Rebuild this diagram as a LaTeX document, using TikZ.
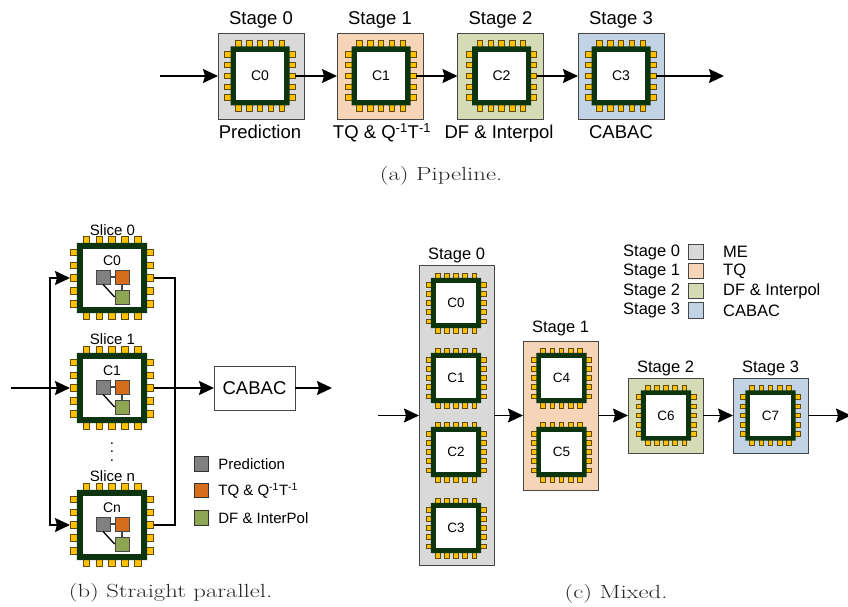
\documentclass[tikz,border=0pt]{standalone}
\usepackage{fontspec}
\usetikzlibrary{positioning, shapes.misc, arrows.meta}
\newfontfamily\arialfont{Liberation Sans}
\definecolor{chipgreen}{RGB}{12, 52, 14}
\definecolor{pingold}{RGB}{255, 192, 0}
\definecolor{pinedge}{RGB}{95, 75, 10}
\definecolor{stagegray}{RGB}{217, 217, 217}
\definecolor{stagepeach}{RGB}{246, 212, 184}
\definecolor{stagegreen}{RGB}{212, 219, 181}
\definecolor{stageblue}{RGB}{193, 211, 229}
\definecolor{blockgray}{RGB}{128, 128, 128}
\definecolor{blockorange}{RGB}{212, 110, 28}
\definecolor{blockgreen}{RGB}{142, 166, 84}
\definecolor{edgegray}{RGB}{70, 70, 70}
\tikzset{
    stagebox/.style={draw=edgegray, line width=0.8pt, inner sep=0pt, outer sep=0pt},
    chippin/.style={draw=pinedge, fill=pingold, line width=0.8pt},
    chipbody/.style={shape=chamfered rectangle, chamfered rectangle corners=north west,
        chamfered rectangle xsep=#1*2.5pt, chamfered rectangle ysep=#1*2.5pt,
        fill=chipgreen, inner sep=0pt, minimum size=#1*59pt, outer sep=#1*5.8pt},
    chipwindow/.style={fill=white, inner sep=0pt, minimum size=#1*48pt},
    chiplabel/.style={font=\arialfont\fontsize{14}{16}\selectfont, inner sep=0pt},
    stagelabel/.style={font=\arialfont\fontsize{18.5}{20}\selectfont, inner sep=1pt},
    smalllabel/.style={font=\arialfont\fontsize{16.5}{18}\selectfont, inner sep=0pt},
    keylabel/.style={font=\arialfont\fontsize{15}{17}\selectfont, inner sep=0pt},
    keybox/.style={draw=black!80, line width=0.8pt, inner sep=0pt, minimum size=14.5pt},
    capnode/.style={font=\fontsize{19}{21}\selectfont, text=black!85, inner sep=0pt},
    flow/.style={line width=1.5pt, -{Stealth[length=15pt, width=14pt, inset=2pt]}},
    busline/.style={line width=1.3pt},
    tinyblock/.style={draw=edgegray, line width=0.8pt, inner sep=0pt, minimum size=14pt}
}
\newcommand{\captext}[1]{\scalebox{1.3}[1]{#1}}
\newcommand{\chip}[4]{
    \begin{scope}[shift={(#2,#3)}, scale=#4]
        \foreach \a in {-2,...,2} {
            \draw[chippin] (\a*10.8-2.7,-35.2) rectangle (\a*10.8+2.7,-28);
            \draw[chippin] (\a*10.8-2.7,35.2) rectangle (\a*10.8+2.7,28);
            \draw[chippin] (-35.2,\a*10.8-2.7) rectangle (-28,\a*10.8+2.7);
            \draw[chippin] (35.2,\a*10.8-2.7) rectangle (28,\a*10.8+2.7);
        }
        \node[chipbody=#4] (#1) at (0,0) {};
        \node[chipwindow=#4] (#1w) at (0,0) {};
    \end{scope}
}
\newcommand{\blocks}[3]{
    \begin{scope}[shift={(#2,#3)}]
        \node[tinyblock, fill=blockgray] (#1g) at (-9,-1) {};
        \node[tinyblock, fill=blockorange] (#1o) at (10,-1) {};
        \node[tinyblock, fill=blockgreen] (#1d) at (10,19) {};
        \draw[busline, edgegray] (#1g) -- (#1o);
        \draw[busline, edgegray] (#1o) -- (#1d);
        \draw[busline] (#1g.south) -- (#1d.west);
    \end{scope}
}
\begin{document}
\begin{tikzpicture}[x=1pt, y=-1pt]
    \useasboundingbox (0,0) rectangle (848,607);

    \node[stagebox, fill=stagegray, minimum size=86pt] (sa0) at (261,76) {};
    \node[stagebox, fill=stagepeach, minimum size=86pt] (sa1) at (380,76) {};
    \node[stagebox, fill=stagegreen, minimum size=86pt] (sa2) at (500.5,76) {};
    \node[stagebox, fill=stageblue, minimum size=86pt] (sa3) at (621,76) {};
    \chip{ca0}{260}{76}{1}
    \chip{ca1}{381}{76}{1}
    \chip{ca2}{501.5}{76}{1}
    \chip{ca3}{621}{76}{1}
    \node[chiplabel] (la0) at (ca0) {C0};
    \node[chiplabel] (la1) at (ca1) {C1};
    \node[chiplabel] (la2) at (ca2) {C2};
    \node[chiplabel] (la3) at (ca3) {C3};
    \node[stagelabel, above=3pt of sa0] (ta0) {Stage 0};
    \node[stagelabel, above=3pt of sa1] (ta1) {Stage 1};
    \node[stagelabel, above=3pt of sa2] (ta2) {Stage 2};
    \node[stagelabel, above=3pt of sa3] (ta3) {Stage 3};
    \node[stagelabel, anchor=base] (na0) at (260,139) {Prediction};
    \node[stagelabel, anchor=base] (na1) at (382,139) {TQ \& Q\textsuperscript{-1}T\textsuperscript{-1}};
    \node[stagelabel, anchor=base] (na2) at (499,139) {DF \& Interpol};
    \node[stagelabel, anchor=base] (na3) at (621,139) {CABAC};
    \coordinate (ina) at (160,76);
    \coordinate (outa) at (724,76);
    \draw[flow] (ina) -- (sa0.west);
    \draw[flow] (ca0.east) -- (sa1.west);
    \draw[flow] (ca1.east) -- (sa2.west);
    \draw[flow] (ca2.east) -- (sa3.west);
    \draw[flow] (ca3.east) -- (outa);
    \node[capnode] (capa) at (441,176) {\captext{(a) Pipeline.}};

    \chip{cb0}{112}{278}{1.19}
    \chip{cb1}{112}{388}{1.19}
    \chip{cbn}{112}{525}{1.19}
    \node[chiplabel] (lb0) at (112,261) {C0};
    \node[chiplabel] (lb1) at (112,371) {C1};
    \node[chiplabel] (lbn) at (112,508) {Cn};
    \blocks{bb0}{112}{278}
    \blocks{bb1}{112}{388}
    \blocks{bbn}{112}{525}
    \node[keylabel] (tb0) at (112.5,230) {Slice 0};
    \node[keylabel] (tb1) at (112.5,339) {Slice 1};
    \node[keylabel] (tbn) at (112.5,476) {Slice n};
    \node[font=\arialfont\fontsize{15}{8.5}\selectfont, align=center, inner sep=0pt] (dots) at (112,452) {.\\.\\.};
    \node[stagebox, draw=edgegray, minimum width=81pt, minimum height=44pt,
        font=\arialfont\fontsize{18.5}{20}\selectfont] (cabac) at (254.5,388) {CABAC};
    \coordinate (inb) at (11,388);
    \coordinate (outb) at (332,388);
    \coordinate (jl) at (50,388);
    \coordinate (jr) at (175,388);
    \draw[flow] (inb) -- (cb1.west);
    \draw[flow] (jl) |- (cb0.west);
    \draw[flow] (jl) |- (cbn.west);
    \draw[busline] (cb0.east) -| (jr);
    \draw[busline] (cbn.east) -| (jr);
    \draw[flow] (cb1.east) -- (cabac.west);
    \draw[flow] (cabac.east) -- (outb);
    \node[keybox, fill=blockgray] (kb0) at (201.5,464) {};
    \node[keybox, fill=blockorange] (kb1) at (201.5,490.5) {};
    \node[keybox, fill=blockgreen] (kb2) at (201.5,518) {};
    \node[keylabel, right=9pt of kb0] (kt0) {Prediction};
    \node[keylabel, right=9pt of kb1] (kt1) {TQ \& Q\textsuperscript{-1}T\textsuperscript{-1}};
    \node[keylabel, right=9pt of kb2] (kt2) {DF \& InterPol};
    \node[capnode] (capb) at (170.5,593) {\captext{(b) Straight parallel.}};

    \node[stagebox, fill=stagegray, minimum width=75pt, minimum height=300pt] (sc0) at (456.5,415.5) {};
    \node[stagebox, fill=stagepeach, minimum width=75pt, minimum height=149pt] (sc1) at (560.5,415.5) {};
    \node[stagebox, fill=stagegreen, minimum size=75pt] (sc2) at (665.5,415.5) {};
    \node[stagebox, fill=stageblue, minimum size=75pt] (sc3) at (770.5,415.5) {};
    \chip{cc0}{456}{303}{0.85}
    \chip{cc1}{456}{378}{0.85}
    \chip{cc2}{456}{452}{0.85}
    \chip{cc3}{456}{528}{0.85}
    \chip{cc4}{561.5}{378}{0.85}
    \chip{cc5}{561.5}{452}{0.85}
    \chip{cc6}{666}{415.5}{0.85}
    \chip{cc7}{770.5}{415.5}{0.85}
    \foreach \n in {0,...,7} {
        \node[chiplabel, font=\arialfont\fontsize{13.5}{15}\selectfont] (lc\n) at (cc\n) {C\n};
    }
    \node[smalllabel, above=2.5pt of sc0] (tc0) {Stage 0};
    \node[smalllabel, above=4.5pt of sc1] (tc1) {Stage 1};
    \node[smalllabel, above=1.5pt of sc2] (tc2) {Stage 2};
    \node[smalllabel, above=1.5pt of sc3] (tc3) {Stage 3};
    \coordinate (inc) at (378,415.5);
    \coordinate (outc) at (851,415.5);
    \draw[flow] (inc) -- (sc0.west);
    \draw[flow] (sc0.east) -- (sc1.west);
    \draw[flow] (sc1.east) -- (sc2.west);
    \draw[flow] (sc2.east) -- (sc3.west);
    \draw[flow] (sc3.east) -- (outc);
    \node[stagebox, fill=stagegray, minimum size=15.5pt] (kc0) at (696,252) {};
    \node[stagebox, fill=stagepeach, minimum size=15.5pt] (kc1) at (696,271) {};
    \node[stagebox, fill=stagegreen, minimum size=15.5pt] (kc2) at (696,291) {};
    \node[stagebox, fill=stageblue, minimum size=15.5pt] (kc3) at (696,310.5) {};
    \node[smalllabel, left=8pt of kc0] (kl0) {Stage 0};
    \node[smalllabel, left=8pt of kc1] (kl1) {Stage 1};
    \node[smalllabel, left=8pt of kc2] (kl2) {Stage 2};
    \node[smalllabel, left=8pt of kc3] (kl3) {Stage 3};
    \node[smalllabel, anchor=west] (kr0) at (723,252) {ME};
    \node[smalllabel, anchor=west] (kr1) at (723,271) {TQ};
    \node[smalllabel, anchor=west] (kr2) at (723,291) {DF \& Interpol};
    \node[smalllabel, anchor=west] (kr3) at (723,310.5) {CABAC};
    \node[capnode] (capc) at (616,594) {\captext{(c) Mixed.}};
\end{tikzpicture}
\end{document}
